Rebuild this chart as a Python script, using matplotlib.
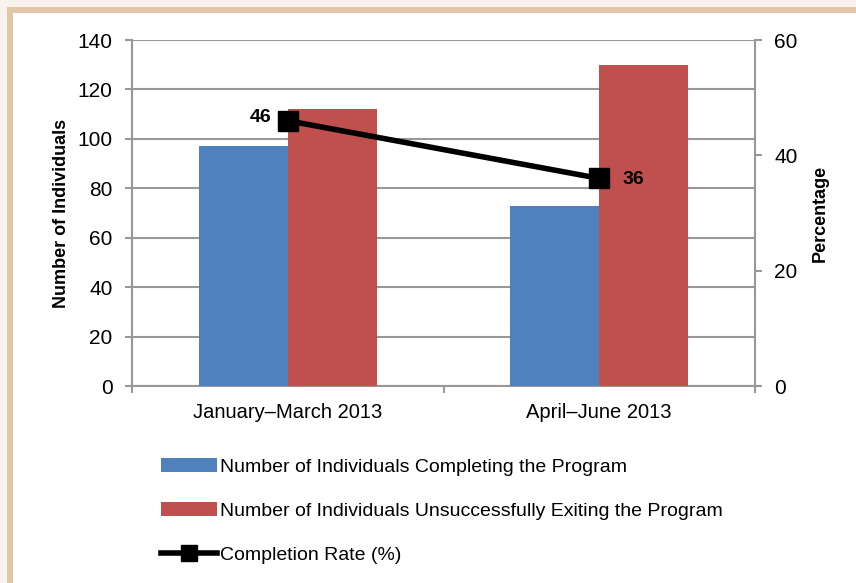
import numpy as np
import matplotlib
matplotlib.use("Agg")
import matplotlib.pyplot as plt
from matplotlib.patches import Rectangle, Patch
from matplotlib.lines import Line2D

plt.rcParams['font.family'] = ['Liberation Sans Narrow', 'Liberation Sans', 'DejaVu Sans']

# --- data ---
periods = ["January\u2013March 2013", "April\u2013June 2013"]
completing = [97, 73]
unsuccessful = [112, 130]
completion_rate = [46, 36]

BLUE = '#4F81BD'
RED = '#C0504D'
GRID = '#989898'

W, H = 856, 583
fig = plt.figure(figsize=(W / 100, H / 100), dpi=100)
fig.patch.set_facecolor('#F8F3EC')

# frame: tan border on top/left, white panel inside
fig.patches.append(Rectangle((7 / W, 0), 1, 1 - 7 / H, transform=fig.transFigure,
                             facecolor='#E2C8A8', edgecolor='none', zorder=-3))
fig.patches.append(Rectangle((13 / W, 0), 1, 1 - 13 / H, transform=fig.transFigure,
                             facecolor='white', edgecolor='none', zorder=-2))

ax = fig.add_axes([132 / W, 1 - 386 / H, (755 - 132) / W, (386 - 40) / H])
ax.set_facecolor('none')

x = np.arange(len(periods))
bw = 0.286
ax.bar(x - bw / 2, completing, bw, color=BLUE, zorder=3)
ax.bar(x + bw / 2, unsuccessful, bw, color=RED, zorder=3)

ax.set_xlim(-0.5, len(periods) - 0.5)
ax.set_ylim(0, 140)
ax.set_yticks(range(0, 141, 20))
ax.yaxis.grid(True, color=GRID, linewidth=1.5, zorder=0)
ax.set_axisbelow(True)

for side in ['top', 'right']:
    ax.spines[side].set_visible(False)
ax.spines['left'].set_color(GRID)
ax.spines['left'].set_linewidth(1.5)
ax.spines['bottom'].set_color(GRID)
ax.spines['bottom'].set_linewidth(1.5)

ax.set_xticks(x)
ax.set_xticklabels(periods, fontsize=14.5)
ax.tick_params(axis='x', length=0, pad=12)
ax.set_xticks([-0.5, 0.5, 1.5], minor=True)
ax.tick_params(axis='x', which='minor', length=5, width=1.5, color=GRID)
ax.tick_params(axis='y', length=5, width=1.5, color=GRID, labelsize=15, pad=9)
ax.set_ylabel("Number of Individuals", fontsize=13, fontweight='bold', labelpad=5)

ax2 = ax.twinx()
ax2.set_ylim(0, 60)
ax2.set_yticks(range(0, 61, 20))
for side in ['top', 'left', 'bottom']:
    ax2.spines[side].set_visible(False)
ax2.spines['right'].set_color(GRID)
ax2.spines['right'].set_linewidth(1.5)
ax2.tick_params(axis='y', length=5, width=1.5, color=GRID, labelsize=15, pad=9)
ax2.set_ylabel("Percentage", fontsize=13, fontweight='bold', labelpad=10)

ax2.plot(x, completion_rate, color='black', linewidth=4, marker='s',
         markersize=14, zorder=5)
ax2.annotate(str(completion_rate[0]), (x[0], completion_rate[0]), xytext=(-12, 2),
             textcoords='offset points', ha='right', va='center',
             fontsize=14, fontweight='bold')
ax2.annotate(str(completion_rate[1]), (x[1], completion_rate[1]), xytext=(17, -1),
             textcoords='offset points', ha='left', va='center',
             fontsize=14, fontweight='bold')

handles = [
    Patch(facecolor=BLUE, edgecolor='none'),
    Patch(facecolor=RED, edgecolor='none'),
    Line2D([], [], color='black', linewidth=4, marker='s', markersize=11),
]
labels = [
    "Number of Individuals Completing the Program",
    "Number of Individuals Unsuccessfully Exiting the Program",
    "Completion Rate (%)",
]
fig.legend(handles, labels, loc='upper left', bbox_to_anchor=(153 / W, 1 - 450 / H),
           frameon=False, fontsize=14, handlelength=2.9, handleheight=0.75,
           handletextpad=0.15, labelspacing=1.35, borderaxespad=0)

fig.savefig("out.png", dpi=100, facecolor=fig.get_facecolor())
